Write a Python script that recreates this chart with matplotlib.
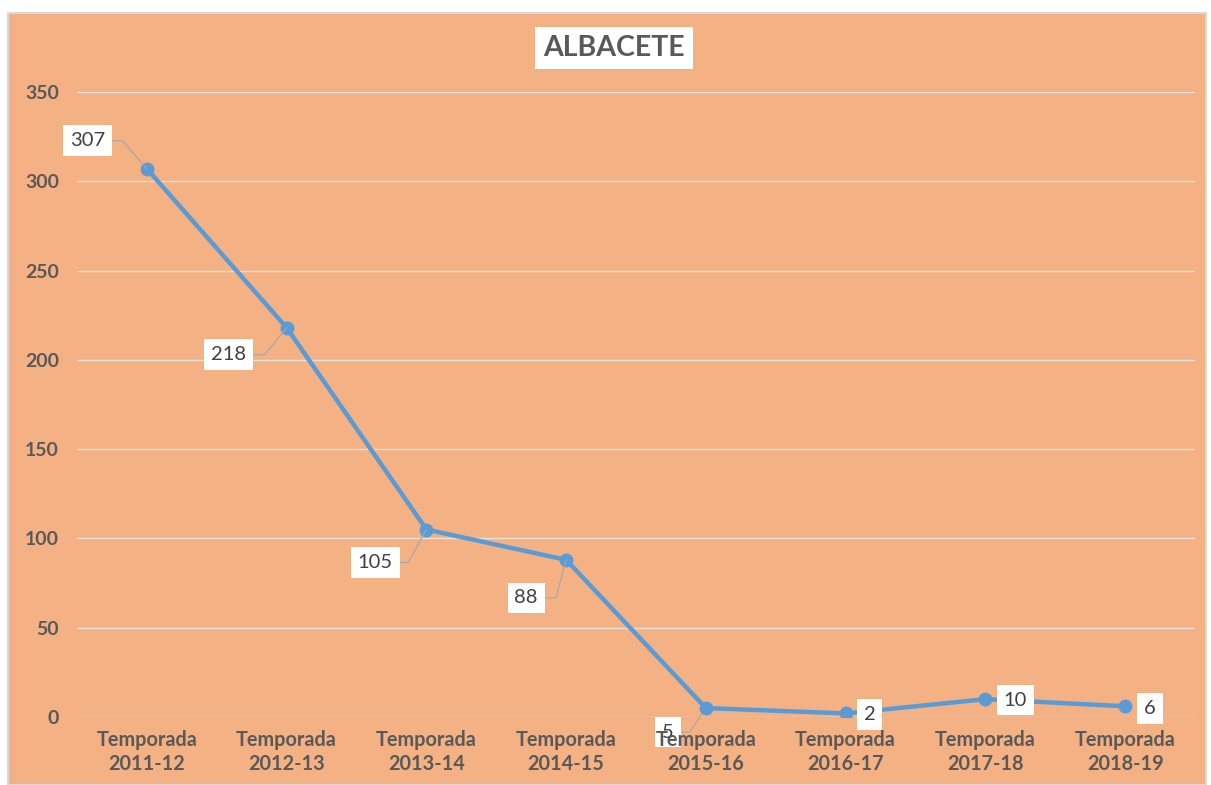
import matplotlib
matplotlib.use("Agg")
import matplotlib.pyplot as plt
from matplotlib.patches import Rectangle

seasons = ["Temporada\n2011-12", "Temporada\n2012-13", "Temporada\n2013-14", "Temporada\n2014-15",
           "Temporada\n2015-16", "Temporada\n2016-17", "Temporada\n2017-18", "Temporada\n2018-19"]
values = [307, 218, 105, 88, 5, 2, 10, 6]
yticks = [0, 50, 100, 150, 200, 250, 300, 350]
title = "ALBACETE"

# label placement (pixel offsets from point, leader angle at point or None)
label_offsets = [(-59, 28), (-58, -27), (-51, -33), (-40, -38), (-38, -24), (24, -1), (30, -1), (25, -2)]
leader_angles = [131, 51, 61, 75, 56, None, None, None]
label_z = [5, 5, 5, 5, 0.4, 5, 5, 5]

plt.rcParams['font.family'] = ['Lato', 'DejaVu Sans']
W, H = 1211, 785
fig = plt.figure(figsize=(W / 100, H / 100), dpi=100)
fig.patch.set_facecolor('white')
fig.patches.append(Rectangle((8 / W, 0), 1198 / W, (H - 13) / H, transform=fig.transFigure,
                             facecolor='#F4B183', edgecolor='#D9D9D9', linewidth=1.5, zorder=-10))

ax = fig.add_axes([77 / W, 68 / H, (1195 - 77) / W, (717 - 92) / H])
ax.set_facecolor('none')
x = list(range(len(values)))
ax.plot(x, values, color='#5B9BD5', lw=3.2, marker='o', markersize=9, zorder=3, solid_capstyle='round')
ax.set_xlim(-0.5, len(values) - 0.5)
ax.set_ylim(0, 350)
ax.set_yticks(yticks)
ax.set_xticks(x)
ax.set_xticklabels(seasons, fontsize=14.3, fontweight='bold', color='#595959', linespacing=1.25)
ax.set_yticklabels([str(t) for t in yticks], fontsize=14, fontweight='bold', color='#595959')
ax.tick_params(length=0)
ax.tick_params(axis='y', pad=13)
ax.tick_params(axis='x', pad=9)
for s in ax.spines.values():
    s.set_visible(False)
ax.grid(axis='y', color='#E6E1DC', lw=1)
ax.set_axisbelow(True)

px = 72 / 100  # points per pixel
for xi, v, (dx, dy), ang, z in zip(x, values, label_offsets, leader_angles, label_z):
    arrow = None
    if ang is not None:
        arrow = dict(arrowstyle='-', color='#A6A6A6', lw=0.8, shrinkA=0, shrinkB=0,
                     connectionstyle=f"angle,angleA=0,angleB={ang},rad=0")
    ax.annotate(str(v), xy=(xi, v), xytext=(dx * px, dy * px), textcoords='offset points',
                ha='center', va='center', fontsize=14.5, color='#404040',
                bbox=dict(boxstyle='square,pad=0.34', fc='white', ec='none'),
                arrowprops=arrow, zorder=z)

fig.text(614 / W, 1 - 48 / H, title, ha='center', va='center', fontsize=20.5, fontweight='bold',
         color='#595959', bbox=dict(boxstyle='square,pad=0.28', fc='white', ec='none'))

fig.savefig('out.png', dpi=100)
